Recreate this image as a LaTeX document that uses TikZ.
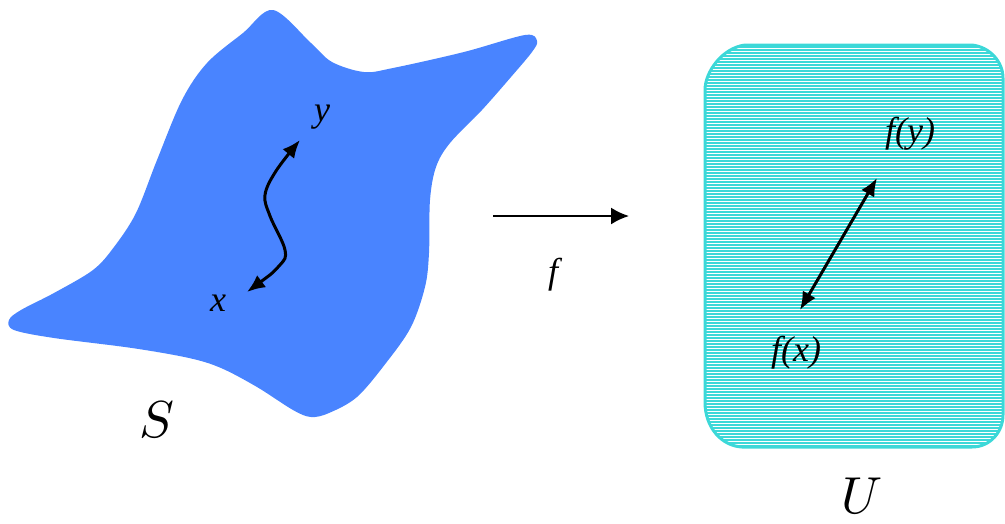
\documentclass[tikz,border=0pt]{standalone}
\usepackage{fontspec}
\newfontfamily\tms{Liberation Serif}
\usetikzlibrary{arrows.meta}
\definecolor{blobblue}{RGB}{73,132,255}
\definecolor{ucyan}{RGB}{60,216,216}
\tikzset{
  tlabel/.style={inner sep=0pt, font=\fontsize{36}{36}\selectfont\tms\itshape},
  biglabel/.style={inner sep=0pt},
  thickarrow/.style={line width=3pt, {Latex[length=18pt,width=15pt]}-{Latex[length=18pt,width=15pt]}},
  maparrow/.style={line width=2pt, -{Latex[length=18pt,width=17pt]}},
}
\begin{document}
\begin{tikzpicture}[x=1pt,y=-1pt]
\useasboundingbox (0,0) rectangle (1005,523);
% surface S
\fill[blobblue] plot[smooth cycle, tension=0.55] coordinates {
 (273,10) (311,43) (332,62) (364,72) (393,68) (464,52) (525,35) (537,41)
 (532,52) (511,77) (482,110) (450,143) (436,167) (430,200) (429,253)
 (425,287) (411,327) (386,363) (357,397) (329,413) (311,417) (293,410)
 (257,387) (221,368) (189,358) (132,348) (54,338) (14,330) (9,320)
 (21,310) (54,293) (93,270) (114,247) (136,213) (157,160) (182,100)
 (207,63) (243,33)};
% region U
\def\Ushape{(705,90) .. controls (705,72) and (722,48) .. (745,45) -- (972,45)
  .. controls (990,47) and (1003,62) .. (1003,78) -- (1003,415)
  .. controls (1003,432) and (990,447) .. (972,447) -- (742,447)
  .. controls (722,446) and (705,428) .. (705,402) -- cycle}
\begin{scope}
\clip \Ushape;
\foreach \yy in {44,47,...,450} \draw[ucyan, line width=1.3pt] (700,\yy) -- (1010,\yy);
\end{scope}
\draw[ucyan, line width=3pt] \Ushape;
% labels
\node[tlabel] (y) at (322,117) {y};
\node[tlabel] (x) at (218,303) {x};
\node[tlabel] (fy) at (910,134) {f(y)};
\node[tlabel] (fx) at (796,353) {f(x)};
\node[tlabel] (f) at (553,275) {f};
\node[biglabel] (S) at (157,420) {\scalebox{5.2}{$S$}};
\node[biglabel] (U) at (862,496) {\scalebox{5.2}{$U$}};
% curve in S
\coordinate (xa) at (247,292);
\coordinate (p1) at (279,266);
\coordinate (p2) at (285,250);
\coordinate (p3) at (270,216);
\coordinate (p4) at (265,195);
\coordinate (p5) at (276,171);
\coordinate (ya) at (300,140);
\draw[thickarrow] plot[smooth, tension=0.6] coordinates {(xa) (p1) (p2) (p3) (p4) (p5) (ya)};
% line in U
\coordinate (fxa) at (800,310);
\coordinate (fya) at (877,178);
\draw[thickarrow] (fxa) -- (fya);
% map arrow
\coordinate (ma) at (493,216);
\coordinate (mb) at (629,216);
\draw[maparrow] (ma) -- (mb);
\end{tikzpicture}
\end{document}
